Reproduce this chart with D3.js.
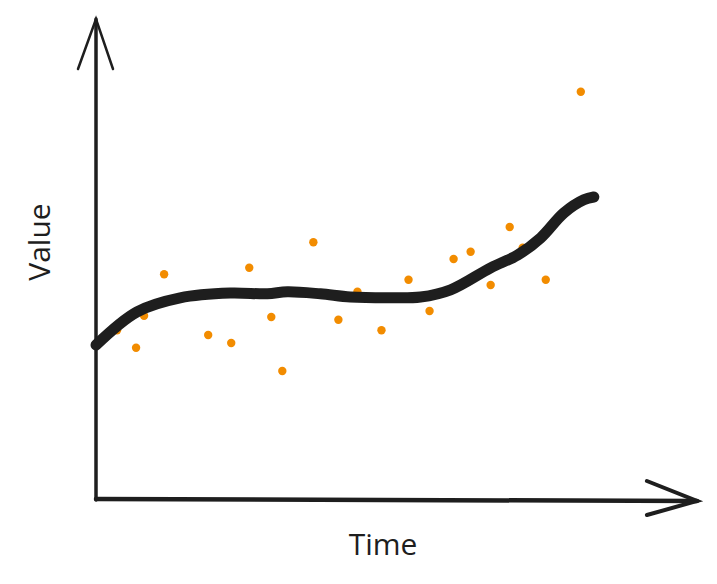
<!DOCTYPE html>
<html>
<head>
<meta charset="utf-8">
<script src="https://cdn.jsdelivr.net/npm/d3@7"></script>
<style>
html,body{margin:0;padding:0;background:#fff;}
svg{display:block;}
</style>
</head>
<body>
<svg id="chart" width="717" height="584"></svg>
<script>
// ---- data ----
const pointX = [0.42,0.80,0.96,1.36,2.24,2.70,3.06,3.50,3.72,4.34,4.84,5.22,5.70,6.24,6.66,7.14,7.48,7.88,8.26,8.52,8.98,9.68];
const pointY = [4.22,3.78,4.58,5.62,4.10,3.90,5.78,4.55,3.20,6.42,4.48,5.18,4.22,5.48,4.70,6.00,6.18,5.35,6.80,6.28,5.48,10.18];
const trendX = [0.00,0.82,1.68,2.68,3.42,3.82,4.48,5.08,5.88,6.48,7.08,7.88,8.42,8.88,9.34,9.74,9.94];
const trendY = [3.85,4.68,5.03,5.15,5.13,5.18,5.13,5.05,5.03,5.05,5.23,5.78,6.10,6.53,7.15,7.48,7.55];
const xLabel = "Time";
const yLabel = "Value";

const svg = d3.select("#chart");
const x = d3.scaleLinear().domain([0, 12]).range([96, 697]);
const y = d3.scaleLinear().domain([0, 12]).range([499, 19]);

const ink = "#1e1e1e";

// axes
const axes = svg.append("g").attr("fill","none").attr("stroke",ink).attr("stroke-linecap","round");
axes.append("line").attr("x1",x(0)).attr("y1",y(0)+1).attr("x2",x(0)).attr("y2",y(12)).attr("stroke-width",3.5);
axes.append("line").attr("x1",x(0)).attr("y1",y(0)).attr("x2",x(12)).attr("y2",y(0)+2).attr("stroke-width",4.5);
// y arrow head
axes.append("path").attr("stroke-width",2.5)
  .attr("d", `M${x(0)-18},${y(10.75)} L${x(0)},${y(12)} L${x(0)+17},${y(10.75)}`);
// x arrow head
axes.append("path").attr("stroke-width",4)
  .attr("d", `M${x(11)},${y(0)-18} L${x(12)},${y(0)+2} L${x(11)},${y(0)+16}`);

// points
svg.append("g").selectAll("circle")
  .data(pointX.map((d,i)=>({x:d,y:pointY[i]})))
  .join("circle")
  .attr("cx",d=>x(d.x)).attr("cy",d=>y(d.y)).attr("r",4.2)
  .attr("fill","#f28c00");

// trend line
const line = d3.line().x(d=>x(d.x)).y(d=>y(d.y)).curve(d3.curveCatmullRom.alpha(0.5));
svg.append("path")
  .datum(trendX.map((d,i)=>({x:d,y:trendY[i]})))
  .attr("d",line)
  .attr("fill","none").attr("stroke",ink).attr("stroke-width",11)
  .attr("stroke-linecap","round").attr("stroke-linejoin","round");

// labels
svg.append("text").attr("x",383).attr("y",555)
  .attr("text-anchor","middle").attr("font-family","'Open Sans', sans-serif")
  .attr("font-size",30).attr("fill",ink).text(xLabel);
svg.append("text").attr("transform","translate(50,242) rotate(-90)")
  .attr("text-anchor","middle").attr("font-family","'Open Sans', sans-serif")
  .attr("font-size",30).attr("fill",ink).text(yLabel);
</script>
</body>
</html>
